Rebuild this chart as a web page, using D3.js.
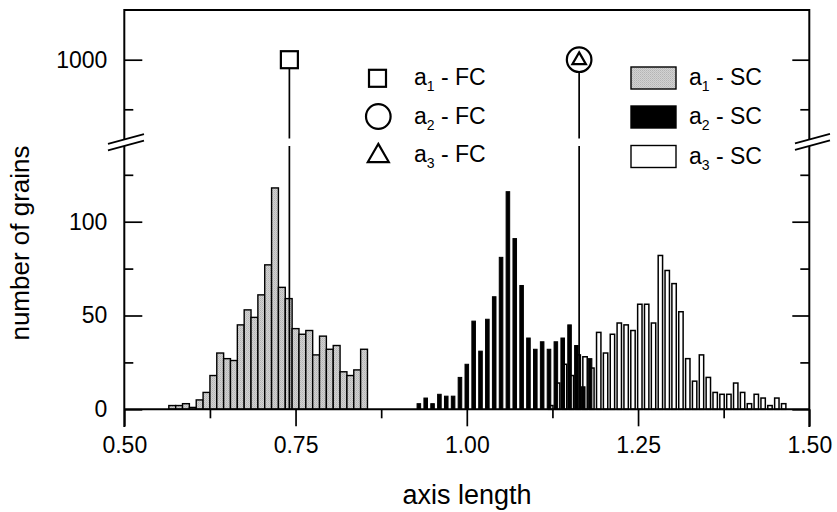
<!DOCTYPE html>
<html>
<head>
<meta charset="utf-8">
<script src="https://cdn.jsdelivr.net/npm/d3@7"></script>
<style>
  body { margin: 0; background: #fff; }
  svg { display: block; font-family: Arial, 'Liberation Sans', Helvetica, sans-serif; }
</style>
</head>
<body>
<div id="svg-container"></div>
<script>
// a1 - SC histogram (gray)
const grayX = [0.57, 0.58, 0.59, 0.6, 0.61, 0.62, 0.63, 0.64, 0.65, 0.66, 0.67, 0.68, 0.69, 0.7, 0.71,
  0.72, 0.73, 0.74, 0.75, 0.76, 0.77, 0.78, 0.79, 0.8, 0.81, 0.82, 0.83, 0.84, 0.85]
const grayN = [2, 2, 3, 1, 5, 9, 18, 30, 27, 26, 45, 53, 49, 61, 77,
  118, 65, 59, 43, 40, 42, 29, 39, 32, 34, 20, 18, 21, 32]

// a2 - SC histogram (black)
const blackX = [0.93, 0.94, 0.95, 0.96, 0.97, 0.98, 0.99, 1.0, 1.01, 1.02, 1.03, 1.04, 1.05, 1.06, 1.07,
  1.08, 1.09, 1.1, 1.11, 1.12, 1.13, 1.14, 1.15, 1.16, 1.17, 1.18]
const blackN = [3, 6, 3, 8, 7, 7, 17, 24, 47, 31, 48, 60, 81, 116, 91,
  66, 38, 32, 36, 32, 36, 38, 45, 34, 12, 27]

// a3 - SC histogram (white)
const whiteX = [1.12, 1.13, 1.14, 1.15, 1.16, 1.17, 1.18, 1.19, 1.2, 1.21, 1.22, 1.23, 1.24, 1.25, 1.26,
  1.27, 1.28, 1.29, 1.3, 1.31, 1.32, 1.33, 1.34, 1.35, 1.36, 1.37, 1.38, 1.39, 1.4, 1.41,
  1.42, 1.43, 1.44, 1.45, 1.46]
const whiteN = [2, 14, 24, 18, 29, 28, 22, 41, 30, 40, 46, 45, 42, 56, 56,
  46, 82, 74, 67, 52, 27, 15, 29, 17, 9, 8, 8, 14, 9, 3,
  8, 6, 2, 6, 3]

// FC single values
const fcLabels = ['1', '2', '3']
const fcX = [0.741, 1.164, 1.164]
const fcY = [1000, 1000, 1000]
const scLabels = ['1', '2', '3']

const xMajorTicks = [0.5, 0.75, 1.0, 1.25, 1.5]
const xMinorTicks = [0.625, 0.875, 1.125, 1.375]
const yLowMajor = [0, 50, 100]
const yLowMinor = [25, 75, 125]
const yHighMajor = [1000]
const yHighMinor = [975]

const svgWidth = 837
const svgHeight = 512
const marginLeft = 124.3
const marginRight = 27.7
const marginTop = 10
const baselineY = 409.3
const frameBottom = 427
const breakTop = 139.5
const breakBottom = 146
const fontSize = 23
const binWidth = 0.01

const xScale = d3.scaleLinear().domain([0.5, 1.5]).range([marginLeft, svgWidth - marginRight])
const yLow = d3.scaleLinear().domain([0, 100]).range([baselineY, 221.7])
const yHigh = d3.scaleLinear().domain([975, 1000]).range([109.3, 59.7])
const xRight = svgWidth - marginRight

const svg = d3
  .select('#svg-container')
  .append('svg')
  .attr('width', svgWidth)
  .attr('height', svgHeight)

svg.append('rect').attr('width', svgWidth).attr('height', svgHeight).attr('fill', '#fff')

// stippled gray fill
const pat = svg
  .append('defs')
  .append('pattern')
  .attr('id', 'stipple')
  .attr('width', 2)
  .attr('height', 2)
  .attr('patternUnits', 'userSpaceOnUse')
pat.append('rect').attr('width', 2).attr('height', 2).attr('fill', '#d2d2d2')
pat.append('rect').attr('width', 1).attr('height', 1).attr('fill', '#b4b4b4')
pat.append('rect').attr('x', 1).attr('y', 1).attr('width', 1).attr('height', 1).attr('fill', '#c0c0c0')

const coreChart = svg.append('g')

// bars
coreChart
  .append('g')
  .selectAll('rect')
  .data(d3.zip(grayX, grayN))
  .join('rect')
  .attr('x', d => xScale(d[0] - binWidth / 2))
  .attr('width', d => xScale(d[0] + binWidth / 2) - xScale(d[0] - binWidth / 2))
  .attr('y', d => yLow(d[1]))
  .attr('height', d => baselineY - yLow(d[1]))
  .attr('fill', 'url(#stipple)')
  .attr('stroke', '#000')
  .attr('stroke-width', 1.4)

const whiteOffset = 0.0026
const whiteHalf = 0.0032
coreChart
  .append('g')
  .selectAll('rect')
  .data(d3.zip(whiteX, whiteN))
  .join('rect')
  .attr('x', d => xScale(d[0] + whiteOffset - whiteHalf))
  .attr('width', d => xScale(d[0] + whiteOffset + whiteHalf) - xScale(d[0] + whiteOffset - whiteHalf))
  .attr('y', d => yLow(d[1]))
  .attr('height', d => baselineY - yLow(d[1]))
  .attr('fill', '#fff')
  .attr('stroke', '#000')
  .attr('stroke-width', 1.5)

const blackHalf = 0.0026
coreChart
  .append('g')
  .selectAll('rect')
  .data(d3.zip(blackX, blackN))
  .join('rect')
  .attr('x', d => xScale(d[0] - blackHalf))
  .attr('width', d => xScale(d[0] + blackHalf) - xScale(d[0] - blackHalf))
  .attr('y', d => yLow(d[1]))
  .attr('height', d => baselineY - yLow(d[1]))
  .attr('fill', '#000')
  .attr('stroke', '#000')
  .attr('stroke-width', 1)

// drop lines for FC values (broken at the axis break)
const dropLines = coreChart.append('g').attr('stroke', '#000').attr('stroke-width', 1.7)
;[0, 1].forEach(i => {
  const x = xScale(fcX[i])
  dropLines.append('line').attr('x1', x).attr('x2', x).attr('y1', yHigh(fcY[i])).attr('y2', breakTop - 1)
  dropLines.append('line').attr('x1', x).attr('x2', x).attr('y1', breakBottom).attr('y2', baselineY)
})

// markers
const symbolSquare = (g, cx, cy, s) =>
  g.append('rect').attr('x', cx - s / 2).attr('y', cy - s / 2).attr('width', s).attr('height', s)
const symbolCircle = (g, cx, cy, r) => g.append('circle').attr('cx', cx).attr('cy', cy).attr('r', r)
const symbolTriangle = (g, cx, cy, s) => {
  const h = (s * Math.sqrt(3)) / 2
  return g
    .append('path')
    .attr('d', `M${cx},${cy - (2 * h) / 3}L${cx + s / 2},${cy + h / 3}L${cx - s / 2},${cy + h / 3}Z`)
}

const markers = coreChart.append('g').attr('fill', '#fff').attr('stroke', '#000').attr('stroke-width', 2.2)
symbolSquare(markers, xScale(fcX[0]), yHigh(fcY[0]), 17)
symbolCircle(markers, xScale(fcX[1]), yHigh(fcY[1]), 12.3)
symbolTriangle(markers, xScale(fcX[2]), yHigh(fcY[2]) + 0.5, 13.5)

// axes
const styleAxis = g => {
  g.select('.domain').remove()
  g.selectAll('.tick line').attr('stroke', '#000').attr('stroke-width', 1.7)
  g.selectAll('.tick text').attr('fill', '#000').style('font-size', `${fontSize}px`)
}

coreChart
  .append('g')
  .attr('transform', `translate(0, ${baselineY})`)
  .call(d3.axisBottom(xScale).tickValues(xMajorTicks).tickSize(17).tickPadding(10).tickFormat(d3.format('.2f')))
  .call(styleAxis)
coreChart
  .append('g')
  .attr('transform', `translate(0, ${baselineY})`)
  .call(d3.axisBottom(xScale).tickValues(xMinorTicks).tickSize(9).tickFormat(''))
  .call(styleAxis)

const yFormat = d3.format('d')
const leftAxis = coreChart.append('g').attr('transform', `translate(${marginLeft}, 0)`)
leftAxis
  .append('g')
  .call(d3.axisLeft(yLow).tickValues(yLowMajor).tickSize(-18).tickPadding(17).tickFormat(yFormat))
  .call(styleAxis)
leftAxis.append('g').call(d3.axisLeft(yLow).tickValues(yLowMinor).tickSize(-9).tickFormat('')).call(styleAxis)
leftAxis
  .append('g')
  .call(d3.axisLeft(yHigh).tickValues(yHighMajor).tickSize(-18).tickPadding(17).tickFormat(yFormat))
  .call(styleAxis)
leftAxis.append('g').call(d3.axisLeft(yHigh).tickValues(yHighMinor).tickSize(-9).tickFormat('')).call(styleAxis)

const rightAxis = coreChart.append('g').attr('transform', `translate(${xRight}, 0)`)
rightAxis.append('g').call(d3.axisRight(yLow).tickValues(yLowMajor).tickSize(-17).tickFormat('')).call(styleAxis)
rightAxis.append('g').call(d3.axisRight(yLow).tickValues(yLowMinor).tickSize(-9).tickFormat('')).call(styleAxis)
rightAxis.append('g').call(d3.axisRight(yHigh).tickValues(yHighMajor).tickSize(-17).tickFormat('')).call(styleAxis)
rightAxis.append('g').call(d3.axisRight(yHigh).tickValues(yHighMinor).tickSize(-9).tickFormat('')).call(styleAxis)

// frame
const frame = coreChart.append('g').attr('stroke', '#000').attr('stroke-width', 2).attr('fill', 'none')
frame.append('line').attr('x1', marginLeft).attr('x2', xRight).attr('y1', marginTop).attr('y2', marginTop)
frame.append('line').attr('x1', marginLeft).attr('x2', xRight).attr('y1', baselineY).attr('y2', baselineY)
;[marginLeft, xRight].forEach(x => {
  frame.append('line').attr('x1', x).attr('x2', x).attr('y1', marginTop - 1).attr('y2', breakTop)
  frame.append('line').attr('x1', x).attr('x2', x).attr('y1', breakBottom).attr('y2', frameBottom)
})

// axis break marks
const breakMarks = coreChart.append('g').attr('stroke', '#000').attr('stroke-width', 1.7)
;[
  [108, 144, marginLeft],
  [795, 830, xRight],
].forEach(([x0, x1, xAxisPos]) => {
  const slope = -0.27
  ;[breakTop, breakBottom].forEach(y => {
    breakMarks
      .append('line')
      .attr('x1', x0)
      .attr('x2', x1)
      .attr('y1', y + slope * (x0 - xAxisPos))
      .attr('y2', y + slope * (x1 - xAxisPos))
  })
})

// axis titles
svg
  .append('text')
  .attr('x', 467)
  .attr('y', 504)
  .attr('text-anchor', 'middle')
  .style('font-size', '27px')
  .text('axis length')

svg
  .append('text')
  .attr('transform', 'translate(29, 243) rotate(-90)')
  .attr('text-anchor', 'middle')
  .style('font-size', '26px')
  .text('number of grains')

// legend FC
const legendFC = svg.append('g')
const fcRowY = [78.3, 116.5, 155]
const fcSymbols = legendFC.append('g').attr('fill', '#fff').attr('stroke', '#000').attr('stroke-width', 2.2)
symbolSquare(fcSymbols, 377.5, fcRowY[0], 17)
symbolCircle(fcSymbols, 378.3, fcRowY[1], 12.3)
symbolTriangle(fcSymbols, 378.3, fcRowY[2] + 1, 21)

const legendText = (g, x, y, sub, suffix) => {
  const t = g.append('text').attr('x', x).attr('y', y).style('font-size', '23px')
  t.append('tspan').text('a')
  t.append('tspan').attr('dy', 6).style('font-size', '14px').text(sub)
  t.append('tspan').attr('dy', -6).text(` - ${suffix}`)
}
fcLabels.forEach((s, i) => legendText(legendFC, 414, fcRowY[i] + 7, s, 'FC'))

// legend SC
const legendSC = svg.append('g')
const scRowY = [78, 117, 156.5]
const scFills = ['url(#stipple)', '#000', '#fff']
scLabels.forEach((s, i) => {
  legendSC
    .append('rect')
    .attr('x', 631)
    .attr('y', scRowY[i] - 11)
    .attr('width', 45)
    .attr('height', 22)
    .attr('fill', scFills[i])
    .attr('stroke', '#000')
    .attr('stroke-width', 1.4)
  legendText(legendSC, 689, scRowY[i] + 7, s, 'SC')
})
</script>
</body>
</html>
